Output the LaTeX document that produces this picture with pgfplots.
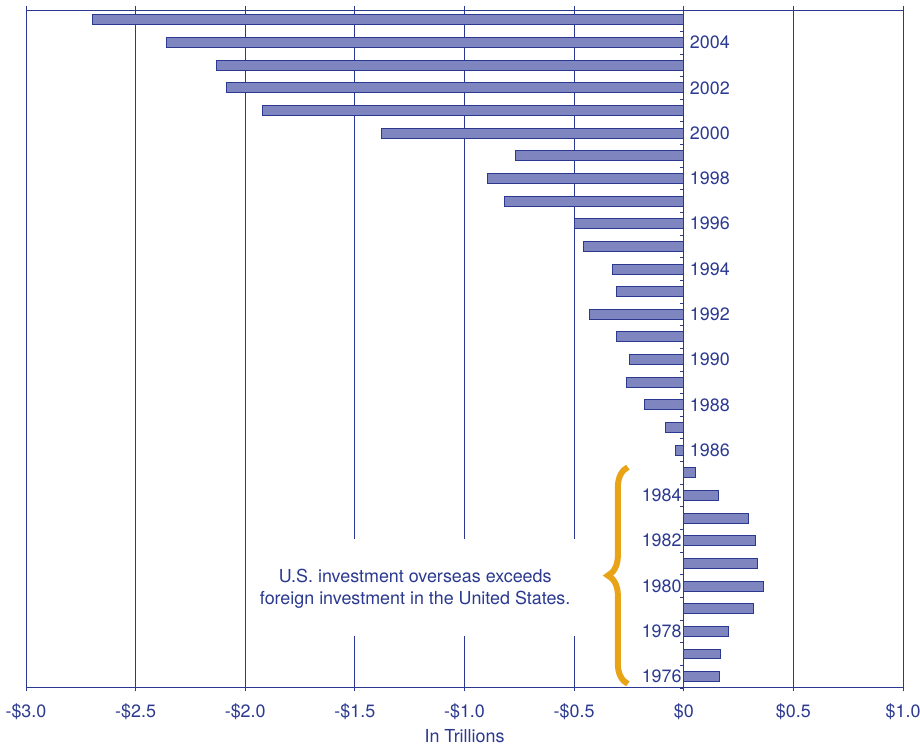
\documentclass[border=0pt]{standalone}
\usepackage{fontspec}
\setmainfont{TeX Gyre Heros}
\usepackage{pgfplots}
\pgfplotsset{compat=1.18}
\usetikzlibrary{decorations.pathreplacing}
\definecolor{dblue}{HTML}{2B3990}
\definecolor{barfill}{HTML}{7F86BF}
\definecolor{braceor}{HTML}{E8A317}
% y position = year - 1975
\begin{document}
\fontsize{18}{23}\selectfont
\begin{tikzpicture}
\begin{axis}[
  scale only axis, width=879bp, height=679bp,
  xmin=-3, xmax=1, ymin=0.52, ymax=30.44,
  axis line style={dblue, line width=0.8bp},
  xtick={-3,-2.5,-2,-1.5,-1,-0.5,0,0.5,1},
  xticklabels={-\$3.0,-\$2.5,-\$2.0,-\$1.5,-\$1.0,-\$0.5,\$0,\$0.5,\$1.0},
  ytick=\empty,
  xmajorgrids, grid style={dblue, line width=0.8bp},
  tick align=outside, major tick length=4bp,
  tick style={dblue, line width=0.8bp},
  tick label style={font=\fontsize{18}{22}\selectfont, text=dblue},
  xticklabel style={yshift=-6bp},
  xlabel={In Trillions},
  xlabel style={font=\fontsize{18}{22}\selectfont, text=dblue, yshift=2bp},
  clip=false,
]
\addplot[xbar, bar width=10bp, fill=barfill, draw=dblue, line width=1bp] coordinates {
(0.163,1) (0.167,2) (0.204,3) (0.317,4) (0.363,5)
(0.336,6) (0.327,7) (0.295,8) (0.158,9) (0.053,10)
(-0.038,11) (-0.083,12) (-0.179,13) (-0.261,14) (-0.247,15)
(-0.306,16) (-0.429,17) (-0.306,18) (-0.324,19) (-0.456,20)
(-0.497,21) (-0.816,22) (-0.893,23) (-0.766,24) (-1.380,25)
(-1.921,26) (-2.085,27) (-2.131,28) (-2.358,29) (-2.695,30)
};
\draw[dblue, line width=1.3bp] (axis cs:0,0.52) -- (axis cs:0,30.44);
\pgfplotsinvokeforeach{0,...,29}{
  \draw[dblue, line width=0.8bp] (axis cs:0,#1.5) -- ++(-4bp,0pt);
}
\pgfplotsinvokeforeach{11,13,...,29}{
  \node[anchor=west, text=dblue, inner sep=0pt, xshift=6bp] at (axis cs:0,#1) {\the\numexpr#1+1975\relax};
}
\pgfplotsinvokeforeach{1,3,...,9}{
  \node[anchor=east, text=dblue, inner sep=0pt, xshift=-2bp] at (axis cs:0,#1) {\the\numexpr#1+1975\relax};
}
\fill[white] (axis cs:-1.98,2.81) rectangle (axis cs:-0.43,7.09);
\node[text=dblue, align=center, font=\fontsize{18}{23}\selectfont] at (axis cs:-1.225,4.88)
  {U.S. investment overseas exceeds\\foreign investment in the United States.};
\draw[braceor, line width=6bp, decorate, decoration={brace, amplitude=20bp, aspect=0.5}]
  (axis cs:-0.255,0.68) -- (axis cs:-0.255,10.25);
\end{axis}
\pgfresetboundingbox
\path[use as bounding box] ([shift={(-26bp,-58bp)}]current axis.south west) rectangle ([shift={(17bp,10bp)}]current axis.north east);
\end{tikzpicture}
\end{document}
